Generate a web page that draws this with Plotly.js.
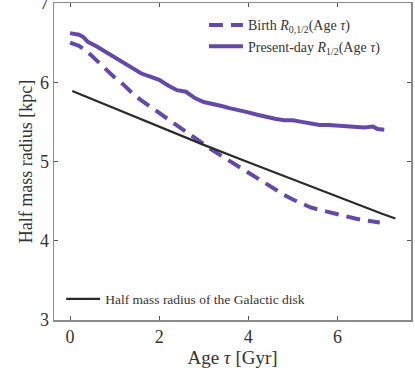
<!DOCTYPE html>
<html>
<head>
<meta charset="utf-8">
<script src="https://cdn.plot.ly/plotly-3.0.1.min.js"></script>
<style>
  html, body { margin: 0; padding: 0; background: #fff; }
  #chart { width: 415px; height: 368px; }
</style>
</head>
<body>
<div id="chart"></div>
<script>
// present-day half mass radius vs age
var agePresent = [0.0, 0.2, 0.3, 0.4, 0.6, 0.8, 1.0, 1.2, 1.4, 1.6, 1.8, 2.0, 2.2, 2.4, 2.6, 2.8,
    3.0, 3.2, 3.4, 3.6, 3.8, 4.0, 4.2, 4.4, 4.6, 4.8, 5.0, 5.2, 5.4, 5.6, 5.8, 6.0,
    6.2, 6.4, 6.6, 6.8, 6.9, 7.05]
var rPresent = [6.62, 6.60, 6.57, 6.51, 6.45, 6.38, 6.31, 6.25, 6.17, 6.11, 6.07, 6.03, 5.96, 5.90, 5.88, 5.80,
    5.75, 5.73, 5.70, 5.67, 5.65, 5.62, 5.59, 5.56, 5.54, 5.52, 5.52, 5.50, 5.48, 5.46, 5.46, 5.45,
    5.45, 5.44, 5.43, 5.44, 5.41, 5.40]

// birth half mass radius vs age
var ageBirth = [0.0, 0.2, 0.4, 0.6, 0.8, 1.0, 1.2, 1.4, 1.6, 1.8, 2.0, 2.2, 2.4, 2.6, 2.8,
    3.0, 3.2, 3.4, 3.6, 3.8, 4.0, 4.2, 4.4, 4.6, 4.8, 5.0, 5.2, 5.4, 5.6, 5.8, 6.0,
    6.2, 6.4, 6.6, 6.8, 6.95]
var rBirth = [6.50, 6.46, 6.38, 6.27, 6.16, 6.06, 5.97, 5.86, 5.77, 5.69, 5.61, 5.53, 5.45, 5.37, 5.29,
    5.22, 5.14, 5.07, 5.00, 4.93, 4.86, 4.79, 4.71, 4.64, 4.58, 4.52, 4.47, 4.42, 4.39, 4.36, 4.33,
    4.30, 4.28, 4.26, 4.24, 4.23]

// galactic disk half mass radius
var ageDisk = [0.05, 1, 2, 3, 4, 5, 6, 7, 7.3]
var rDisk = [5.89, 5.67, 5.44, 5.21, 4.99, 4.77, 4.55, 4.34, 4.28]

var xTicks = [0, 2, 4, 6]
var yTicks = [3, 4, 5, 6, 7]

var purple = '#6549a8'
var serif = 'Liberation Serif, DejaVu Serif, serif'

var traceBirth = {
    x: ageBirth,
    y: rBirth,
    type: 'scatter',
    mode: 'lines',
    name: 'Birth <i>R</i><sub>0,1/2</sub>(Age <i>τ</i>)',
    line: {color: purple, width: 4, dash: '14px,8px'},
    legend: 'legend'
}

var tracePresent = {
    x: agePresent,
    y: rPresent,
    type: 'scatter',
    mode: 'lines',
    name: 'Present-day <i>R</i><sub>1/2</sub>(Age <i>τ</i>)',
    line: {color: purple, width: 4},
    legend: 'legend'
}

var traceDisk = {
    x: ageDisk,
    y: rDisk,
    type: 'scatter',
    mode: 'lines',
    name: 'Half mass radius of the Galactic disk',
    line: {color: '#2b2b2b', width: 2.2},
    legend: 'legend2'
}

var axisCommon = {
    showgrid: false,
    zeroline: false,
    showline: true,
    linecolor: '#8a8a8a',
    linewidth: 1.5,
    mirror: 'ticks',
    ticks: 'inside',
    ticklen: 4,
    tickcolor: '#555',
    ticklabeloverflow: 'allow',
    tickfont: {family: serif, size: 18, color: '#333'}
}

var layout = {
    width: 415,
    height: 368,
    margin: {l: 54, r: 4, t: 3, b: 48},
    paper_bgcolor: '#fff',
    plot_bgcolor: '#fff',
    font: {family: serif, color: '#333'},
    xaxis: Object.assign({}, axisCommon, {
        range: [-0.36, 7.65],
        tickvals: xTicks,
        title: {text: 'Age <i>τ</i> [Gyr]', font: {family: serif, size: 19, color: '#333'}, standoff: 4}
    }),
    yaxis: Object.assign({}, axisCommon, {
        range: [3, 7],
        tickvals: yTicks,
        title: {text: 'Half mass radius [kpc]', font: {family: serif, size: 18, color: '#333'}, standoff: 2}
    }),
    legend: {
        x: 0.42, y: 0.98,
        xanchor: 'left', yanchor: 'top',
        bgcolor: 'rgba(0,0,0,0)',
        font: {family: serif, size: 14, color: '#333'},
        itemwidth: 34,
        tracegroupgap: 0
    },
    legend2: {
        x: 0.02, y: 0.066,
        xanchor: 'left', yanchor: 'middle',
        bgcolor: 'rgba(0,0,0,0)',
        font: {family: serif, size: 13.5, color: '#333'},
        itemwidth: 34
    },
    showlegend: true
}

var config = {staticPlot: true}
Plotly.newPlot('chart', [traceBirth, tracePresent, traceDisk], layout, config)
</script>
</body>
</html>
